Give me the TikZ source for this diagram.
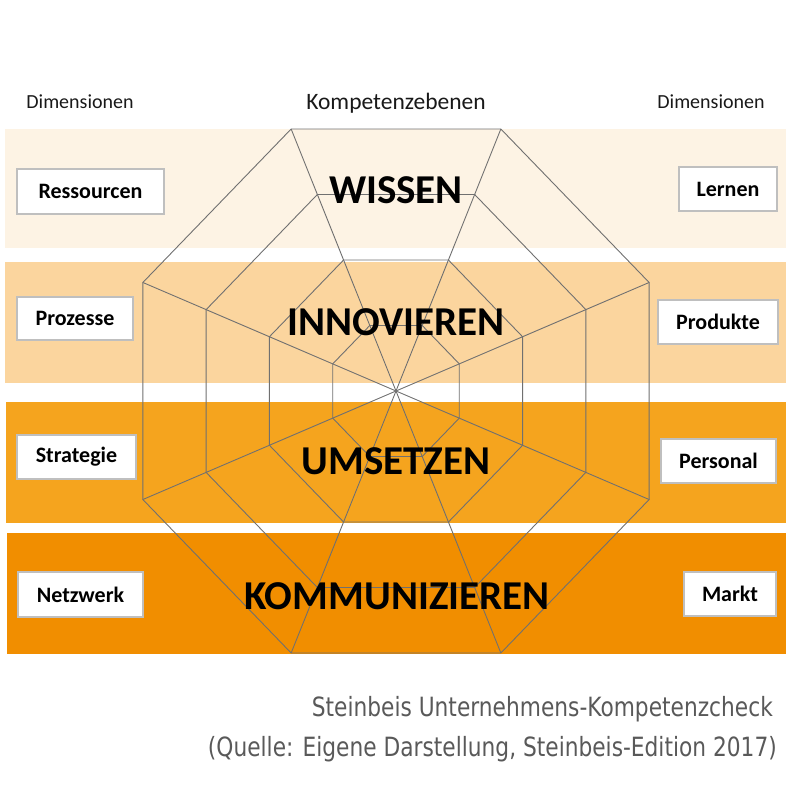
\documentclass[tikz,border=0pt]{standalone}
\usepackage{fontspec}
\setmainfont{Carlito}
\newfontfamily\footfont{DejaVu Sans}
\definecolor{bandA}{RGB}{253,243,228}
\definecolor{bandB}{RGB}{251,213,158}
\definecolor{bandC}{RGB}{245,164,30}
\definecolor{bandD}{RGB}{241,142,0}
\definecolor{webgray}{RGB}{112,112,112}
\definecolor{boxgray}{RGB}{191,191,191}
\definecolor{footgray}{RGB}{89,89,89}
\tikzset{
  web/.style={draw=webgray, line width=0.9pt, line join=miter},
  dimbox/.style={draw=boxgray, line width=2.5pt, fill=white, inner sep=0pt,
    font=\fontsize{22}{26}\selectfont\bfseries, text=black},
  level/.style={font=\fontsize{41}{48}\selectfont\bfseries, text=black, anchor=base, inner sep=0pt},
  head/.style={font=\fontsize{20}{24}\selectfont, text=black!90, anchor=base, inner sep=0pt},
  foot/.style={font=\footfont\fontsize{26.5}{30}\selectfont, text=footgray, anchor=base east, inner sep=0pt}
}
\begin{document}
\begin{tikzpicture}[x=1pt,y=-1pt]
\useasboundingbox (0,0) rectangle (792,792);
% bands
\fill[bandA] (5,129) rectangle (786,248);
\fill[bandB] (5,262) rectangle (786,383);
\fill[bandC] (6,402) rectangle (786,523);
\fill[bandD] (7,533) rectangle (786,654);
% web
\coordinate (c) at (396,391);
\foreach \l/\s in {1/0.25,2/0.5,3/0.75,4/1}{
  \foreach \k in {0,...,7}{
    \coordinate (v\l-\k) at ({396+274*\s*cos(22.5+45*\k)},{391+283.6*\s*sin(22.5+45*\k)});
  }
  \draw[web] (v\l-0) -- (v\l-1) -- (v\l-2) -- (v\l-3) -- (v\l-4) -- (v\l-5) -- (v\l-6) -- (v\l-7) -- cycle;
}
\foreach \k in {0,...,7}{\draw[web] (c) -- (v4-\k);}
% headings
\node[head] (hl) at (80,108) {Dimensionen};
\node[head, font=\fontsize{23.5}{28}\selectfont] (hc) at (396,109) {Kompetenzebenen};
\node[head] (hr) at (711,108) {Dimensionen};
% levels
\node[level] (wissen) at (396,203) {WISSEN};
\node[level] (innov) at (396,335) {INNOVIEREN};
\node[level] (umset) at (396,474) {UMSETZEN};
\node[level] (komm) at (397,609) {KOMMUNIZIEREN};
% dimension boxes
\node[dimbox, minimum width=147pt, minimum height=45pt] (ress) at (90.5,191.5) {Ressourcen};
\node[dimbox, minimum width=116pt, minimum height=43pt] (proz) at (75,318.5) {Prozesse};
\node[dimbox, minimum width=119pt, minimum height=44pt] (strat) at (76.5,457) {Strategie};
\node[dimbox, minimum width=125pt, minimum height=45pt] (netz) at (80.5,594.5) {Netzwerk};
\node[dimbox, minimum width=98pt, minimum height=44pt] (lern) at (728,189) {Lernen};
\node[dimbox, minimum width=120pt, minimum height=44pt] (prod) at (718,322) {Produkte};
\node[dimbox, minimum width=115pt, minimum height=44pt] (pers) at (718.5,461) {Personal};
\node[dimbox, minimum width=92pt, minimum height=44pt] (markt) at (730,594) {Markt};
% footer
\node[foot] (f1) at (773,716.5) {\scalebox{0.82}[1]{Steinbeis Unternehmens-Kompetenzcheck}};
\node[foot] (f2) at (777,756) {\scalebox{0.82}[1]{(Quelle: Eigene Darstellung, Steinbeis-Edition 2017)}};
\end{tikzpicture}
\end{document}
